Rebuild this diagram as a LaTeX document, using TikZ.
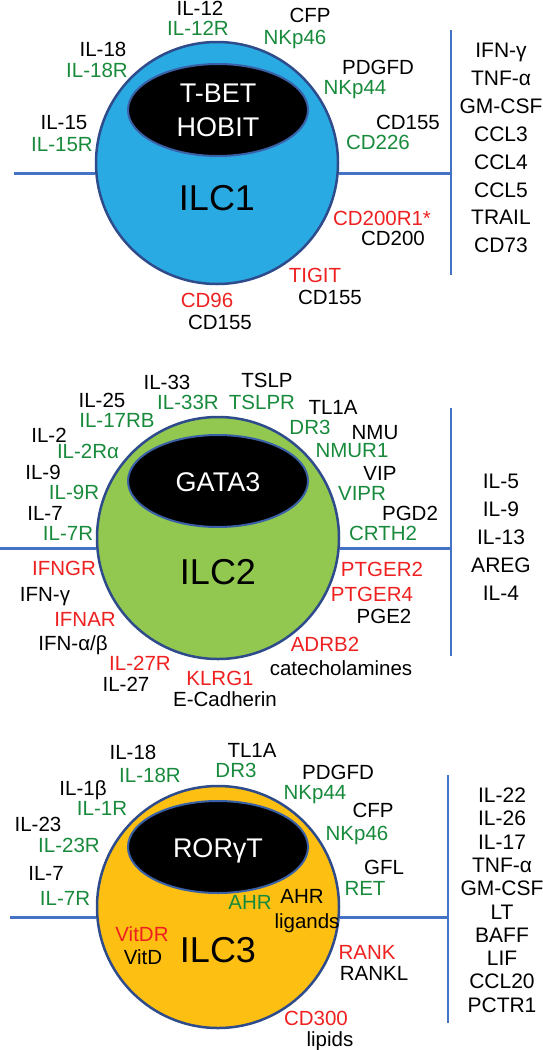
\documentclass[tikz,border=0pt]{standalone}
\usepackage{fontspec}
\setmainfont{Liberation Sans}
\usepackage{xcolor}
\usepackage{tikz}
\usetikzlibrary{shapes.geometric}

\definecolor{ilcblue}{HTML}{2AAAE2}
\definecolor{ilcgreen}{HTML}{92C850}
\definecolor{ilcorange}{HTML}{FCBF12}
\definecolor{rimblue}{HTML}{2E4B8C}
\definecolor{lineblue}{HTML}{4472C4}
\definecolor{recgreen}{HTML}{188A3C}
\definecolor{inhred}{HTML}{EE2020}

\tikzset{
  cell/.style={circle, draw=rimblue, line width=2.5pt, minimum size=242pt, inner sep=0pt},
  core/.style={ellipse, fill=black, draw=lineblue!85!black, line width=2pt,
    minimum width=180pt, minimum height=92pt, inner sep=0pt},
  lab/.style={inner sep=0pt, text height=14.7pt, text depth=0pt, font=\fontsize{20.5}{20.5}\selectfont},
  lig/.style={lab, text=black},
  rec/.style={lab, text=recgreen},
  inh/.style={lab, text=inhred},
  lst/.style={inner sep=0pt, text height=15pt, text depth=0pt, font=\fontsize{21}{21}\selectfont},
  tf/.style={inner sep=0pt, text height=19.3pt, text depth=0pt, text=white, font=\fontsize{27}{27}\selectfont},
  big/.style={inner sep=0pt, text height=26pt, text depth=0pt, font=\fontsize{36}{36}\selectfont},
  wire/.style={draw=lineblue, line width=2.5pt},
}

\begin{document}
\begin{tikzpicture}[x=1pt, y=-1pt]
    \useasboundingbox (0,0) rectangle (542,1050);

    % ILC1
    \node[cell, fill=ilcblue] (c1) at (217,163) {};
    \node[core] (k1) at (218,110) {};
    \node[tf] (t1a) at (218,93) {T-BET};
    \node[tf] (t1b) at (218,127) {HOBIT};
    \node[big] (n1) at (217,197) {ILC1};
    \coordinate (w1) at (14,173);
    \coordinate (v1a) at (451,30);
    \coordinate (v1b) at (451,275);
    \draw[wire] (c1.185) -- (c1.185 -| w1);
    \draw[wire] (c1.-5) -- (c1.-5 -| v1a);
    \draw[wire] (v1a) -- (v1b);

    \node[lig] (a1) at (200,8) {IL-12};
    \node[rec] (a2) at (198,28) {IL-12R};
    \node[lig] (a3) at (310,15) {CFP};
    \node[rec] (a4) at (295,37) {NKp46};
    \node[lig] (a5) at (378,67) {PDGFD};
    \node[rec] (a6) at (355,87) {NKp44};
    \node[lig] (a7) at (408,122) {CD155};
    \node[rec] (a8) at (378,142) {CD226};
    \node[inh] (a9) at (382,218) {CD200R1*};
    \node[lig] (a10) at (393,238) {CD200};
    \node[inh] (a11) at (315,275) {TIGIT};
    \node[lig] (a12) at (330,297) {CD155};
    \node[inh] (a13) at (207,300) {CD96};
    \node[lig] (a14) at (220,322) {CD155};
    \node[lig] (a15) at (103,49) {IL-18};
    \node[rec] (a16) at (97,70) {IL-18R};
    \node[lig] (a17) at (64,122) {IL-15};
    \node[rec] (a18) at (62,144) {IL-15R};

    \foreach \t [count=\i] in {IFN-γ,TNF-α,GM-CSF,CCL3,CCL4,CCL5,TRAIL,CD73}
        \node[lst] (p1-\i) at (501,{50+27.9*(\i-1)}) {\t};

    % ILC2
    \node[cell, fill=ilcgreen] (c2) at (218,538) {};
    \node[core] (k2) at (218,481) {};
    \node[tf] (t2) at (218,482) {GATA3};
    \node[big] (n2) at (218,571) {ILC2};
    \coordinate (w2) at (0,548);
    \coordinate (v2a) at (451,408);
    \coordinate (v2b) at (451,656);
    \draw[wire] (c2.185) -- (c2.185 -| w2);
    \draw[wire] (c2.-5) -- (c2.-5 -| v2a);
    \draw[wire] (v2a) -- (v2b);

    \node[lig] (b1) at (167,382) {IL-33};
    \node[rec] (b2) at (188,402) {IL-33R};
    \node[lig] (b3) at (267,380) {TSLP};
    \node[rec] (b4) at (262,402) {TSLPR};
    \node[lig] (b5) at (333,407) {TL1A};
    \node[rec] (b6) at (310,427) {DR3};
    \node[lig] (b7) at (375,432) {NMU};
    \node[rec] (b8) at (352,450) {NMUR1};
    \node[lig] (b9) at (380,473) {VIP};
    \node[rec] (b10) at (362,493) {VIPR};
    \node[lig] (b11) at (410,513) {PGD2};
    \node[rec] (b12) at (383,533) {CRTH2};
    \node[lig] (b13) at (102,400) {IL-25};
    \node[rec] (b14) at (117,420) {IL-17RB};
    \node[lig] (b15) at (49,435) {IL-2};
    \node[rec] (b16) at (88,451) {IL-2Rα};
    \node[lig] (b17) at (43,472) {IL-9};
    \node[rec] (b18) at (74,492) {IL-9R};
    \node[lig] (b19) at (45,513) {IL-7};
    \node[rec] (b20) at (68,533) {IL-7R};
    \node[inh] (b21) at (64,568) {IFNGR};
    \node[lig] (b22) at (45,594) {IFN-γ};
    \node[inh] (b23) at (85,619) {IFNAR};
    \node[lig] (b24) at (73,643) {IFN-α/β};
    \node[inh] (b25) at (140,663) {IL-27R};
    \node[lig] (b26) at (126,684) {IL-27};
    \node[inh] (b27) at (220,678) {KLRG1};
    \node[lig] (b28) at (225,699) {E-Cadherin};
    \node[inh] (b29) at (382,569) {PTGER2};
    \node[inh] (b30) at (372,594) {PTGER4};
    \node[lig] (b31) at (384,616) {PGE2};
    \node[inh] (b32) at (325,644) {ADRB2};
    \node[lig] (b33) at (341,668) {catecholamines};

    \foreach \t [count=\i] in {IL-5,IL-9,IL-13,AREG,IL-4}
        \node[lst] (p2-\i) at (501,{481+28*(\i-1)}) {\t};

    % ILC3
    \node[cell, fill=ilcorange] (c3) at (218,907) {};
    \node[core] (k3) at (218,847) {};
    \node[tf] (t3) at (218,848) {RORγT};
    \node[big] (n3) at (218,949) {ILC3};
    \coordinate (w3) at (10,917);
    \coordinate (v3a) at (448,775);
    \coordinate (v3b) at (448,1023);
    \draw[wire] (c3.185) -- (c3.185 -| w3);
    \draw[wire] (c3.-5) -- (c3.-5 -| v3a);
    \draw[wire] (v3a) -- (v3b);

    \node[lig] (d1) at (133,752) {IL-18};
    \node[rec] (d2) at (150,775) {IL-18R};
    \node[lig] (d3) at (252,750) {TL1A};
    \node[rec] (d4) at (236,770) {DR3};
    \node[lig] (d5) at (83,788) {IL-1β};
    \node[rec] (d6) at (102,808) {IL-1R};
    \node[lig] (d7) at (38,824) {IL-23};
    \node[rec] (d8) at (69,845) {IL-23R};
    \node[lig] (d9) at (46,873) {IL-7};
    \node[rec] (d10) at (65,898) {IL-7R};
    \node[lig] (d11) at (338,772) {PDGFD};
    \node[rec] (d12) at (315,792) {NKp44};
    \node[lig] (d13) at (373,810) {CFP};
    \node[rec] (d14) at (357,833) {NKp46};
    \node[lig] (d15) at (384,867) {GFL};
    \node[rec] (d16) at (365,888) {RET};
    \node[rec] (d17) at (250,902) {AHR};
    \node[lig] (d18) at (302,896) {AHR};
    \node[lig] (d19) at (307,921) {ligands};
    \node[inh] (d20) at (142,934) {VitDR};
    \node[lig] (d21) at (143,957) {VitD};
    \node[inh] (d22) at (367,952) {RANK};
    \node[lig] (d23) at (374,973) {RANKL};
    \node[inh] (d24) at (316,1018) {CD300};
    \node[lig] (d25) at (330,1039) {lipids};

    \foreach \t [count=\i] in {IL-22,IL-26,IL-17,TNF-α,GM-CSF,LT,BAFF,LIF,CCL20,PCTR1}
        \node[lst] (p3-\i) at (502,{795+23.3*(\i-1)}) {\t};
\end{tikzpicture}
\end{document}
